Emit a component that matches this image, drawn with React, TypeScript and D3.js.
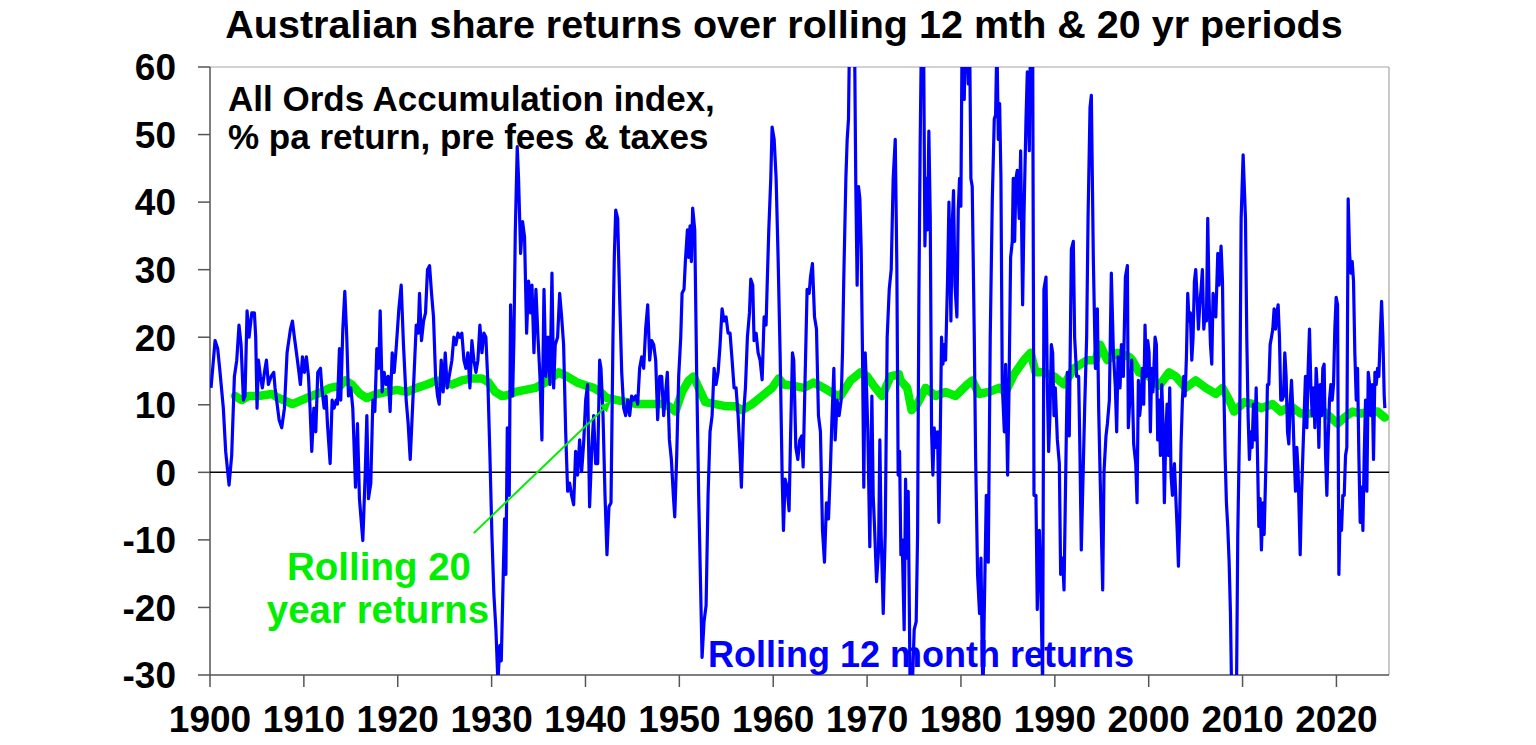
import React from "react";
import * as d3 from "d3";

const titleText = "Australian share returns over rolling 12 mth & 20 yr periods";
const noteLines = ["All Ords Accumulation index,", "% pa return, pre fees & taxes"];
const label20y = ["Rolling 20", "year returns"];
const label12m = "Rolling 12 month returns";

const yTicks = [60, 50, 40, 30, 20, 10, 0, -10, -20, -30];
const xTicks = [1900, 1910, 1920, 1930, 1940, 1950, 1960, 1970, 1980, 1990, 2000, 2010, 2020];

// Rolling 12 month returns, % [decimal year, value]
const rolling12m: [number, number][] = [
  [1900.11, 12.5], [1900.54, 19.5], [1900.82, 18.3], [1901.07, 14.8], [1901.42, 9.5], [1901.67, 3.1],
  [1902.03, -1.9], [1902.31, 2.5], [1902.6, 14.2], [1902.85, 16.6], [1903.09, 21.8], [1903.31, 18.9],
  [1903.56, 10.7], [1903.73, 11.3], [1903.95, 23.9], [1904.16, 20], [1904.45, 23.6], [1904.73, 23.6],
  [1904.87, 20], [1905.01, 9.5], [1905.16, 16.6], [1905.37, 14.2], [1905.58, 12.5], [1905.8, 14.8],
  [1906.01, 16.6], [1906.22, 13], [1906.51, 14.2], [1906.79, 14.8], [1906.93, 12.5], [1907.15, 10.1],
  [1907.36, 7.8], [1907.64, 6.6], [1907.93, 9.5], [1908.21, 17.7], [1908.57, 21.2], [1908.78, 22.4],
  [1908.99, 20], [1909.21, 17.7], [1909.42, 15.4], [1909.63, 13], [1909.85, 17.1], [1910.06, 14.8],
  [1910.27, 17.1], [1910.49, 14.2], [1910.66, 9.5], [1910.84, 3.1], [1911.06, 9.5], [1911.27, 6],
  [1911.48, 14.8], [1911.77, 15.4],
  [1911.91, 12.5], [1912.16, 9.5], [1912.37, 11.3], [1912.51, 7.2], [1912.8, 1.3], [1913.01, 10.7],
  [1913.22, 9.5], [1913.44, 10.7], [1913.58, 10.1], [1913.79, 18.3], [1913.93, 10.7], [1914.15, 21.2],
  [1914.36, 26.8], [1914.57, 20], [1914.75, 11.3], [1915.0, 12.5], [1915.21, 9.5], [1915.5, -2.2],
  [1915.71, 7.2], [1915.92, -3.9], [1916.28, -10.1], [1916.53, -0.4], [1916.71, 8.4], [1916.88, -3.9],
  [1917.13, -1.6], [1917.35, 10.7], [1917.56, 9], [1917.77, 18.3], [1917.98, 15.4], [1918.13, 23.9],
  [1918.34, 11.9], [1918.55, 14.8], [1918.77, 13], [1918.98, 14.2], [1919.19, 9], [1919.41, 17.7],
  [1919.62, 14.8], [1919.83, 18.3], [1920.12, 24.2], [1920.37, 27.7], [1920.61, 18.9], [1920.9, 10.7],
  [1921.11, 7.2], [1921.33, 1.9], [1921.54, 8.4], [1921.75, 14.8], [1921.97, 21.8], [1922.18, 20.6],
  [1922.32, 26.5], [1922.53, 19.5], [1922.75, 22.4], [1922.96, 23.6], [1923.17, 30], [1923.39, 30.6],
  [1923.6, 26.5], [1923.81, 23], [1924.03, 14.2], [1924.24, 11.3],
  [1924.42, 10.1], [1924.63, 16.6], [1924.84, 11.9], [1925.06, 17.7], [1925.27, 12.5], [1925.48, 14.2],
  [1925.77, 16.6], [1925.98, 20], [1926.19, 18.9], [1926.41, 20.6], [1926.62, 20], [1926.83, 20.6],
  [1927.05, 16.6], [1927.26, 15.4], [1927.47, 17.7], [1927.69, 12.5], [1927.9, 19.5], [1928.11, 16.6],
  [1928.33, 14.8], [1928.54, 16.6], [1928.75, 21.8], [1928.97, 17.7], [1929.18, 20.6], [1929.39, 20],
  [1929.61, 13], [1929.82, 2.5], [1930.03, -9.2], [1930.24, -18], [1930.46, -23.3], [1930.67, -31],
  [1930.88, -25.6], [1931.03, -27.9], [1931.24, -15.1], [1931.38, -6.9], [1931.52, -15.1], [1931.67, 6.6],
  [1931.88, -3.4], [1932.02, 24.8], [1932.24, 11.3], [1932.38, 20], [1932.52, 35.4], [1932.73, 48.2],
  [1932.87, 43.5], [1933.09, 32.4], [1933.3, 37.1], [1933.51, 34.8], [1933.73, 20.6], [1933.94, 28.3],
  [1934.15, 23.6], [1934.3, 27.7], [1934.51, 17.7], [1934.72, 27.1], [1934.94, 20], [1935.15, 14.2],
  [1935.36, 4.8], [1935.58, 27.1], [1935.79, 14.2], [1936.0, 20], [1936.22, 13], [1936.43, 29.5],
  [1936.61, 12.5], [1936.78, 18.9], [1937.03, 20], [1937.25, 26.5], [1937.46, 23], [1937.67, 18.9],
  [1937.89, 6], [1938.1, -2.8], [1938.31, -1.6], [1938.52, -3.4], [1938.74, -4.8], [1938.95, 3.1],
  [1939.16, -0.4], [1939.38, 4.8], [1939.59, 0.1], [1939.8, 4.2], [1940.02, 10.7], [1940.23, 13],
  [1940.44, -5.1], [1940.66, 3.1], [1940.87, 8.4], [1941.08, 1.3], [1941.3, 1.3], [1941.51, 16.6],
  [1941.65, 15.4], [1941.87, 8.4], [1942.08, -3.4], [1942.29, -12.2], [1942.5, -5.1], [1942.72, -4.5],
  [1942.93, 20], [1943.07, 31.8], [1943.22, 38.8], [1943.43, 37.6], [1943.64, 25.9], [1943.86, 14.8],
  [1944.07, 9.5], [1944.28, 8.4], [1944.5, 10.7], [1944.71, 8.4], [1944.92, 11.3], [1945.13, 10.7],
  [1945.35, 11.3], [1945.56, 10.1], [1945.77, 15.4], [1945.99, 17.1], [1946.2, 15.4], [1946.41, 21.2],
  [1946.63, 24.8], [1946.84, 16.6], [1947.05, 19.5], [1947.27, 18.9], [1947.48, 16.6], [1947.69, 7.8],
  [1947.91, 14.2], [1948.12, 14.2], [1948.33, 8.4],
  [1948.72, 14.8], [1948.94, 4.8], [1949.15, 1.9], [1949.36, -3.4], [1949.51, -6.6], [1949.72, 2.5],
  [1949.93, 14.2], [1950.15, 20], [1950.29, 26.5], [1950.5, 27.1], [1950.64, 31.2], [1950.86, 35.9],
  [1951.0, 31.8], [1951.14, 36.5], [1951.28, 31.2], [1951.42, 39.1], [1951.64, 35.9], [1951.85, 14.2],
  [1952.06, -3.4], [1952.28, -18], [1952.42, -27.4], [1952.63, -22.1], [1952.85, -19.7], [1953.06, -3.4],
  [1953.27, 6], [1953.49, 8.4], [1953.7, 15.4], [1953.91, 13], [1954.13, 14.8], [1954.34, 18.9],
  [1954.55, 24.2], [1954.76, 22.4], [1954.98, 23], [1955.19, 20.6], [1955.4, 20.6], [1955.62, 16.6],
  [1955.83, 12.5], [1956.04, 12.5], [1956.26, 8.4], [1956.47, 2.5], [1956.61, -2.2], [1956.83, 8.4],
  [1957.04, 12.5], [1957.25, 20], [1957.47, 23.6], [1957.61, 28.6], [1957.82, 27.7], [1957.96, 19.5],
  [1958.18, 20.6], [1958.39, 17.7], [1958.6, 16.6], [1958.82, 13.7], [1959.03, 23], [1959.24, 21.8],
  [1959.38, 28.9], [1959.53, 35.9], [1959.74, 43.5], [1959.88, 51.1], [1960.1, 49.3], [1960.31, 43.5],
  [1960.52, 31.8], [1960.74, 17.1], [1960.95, -0.4], [1961.09, -8.6],
  [1961.27, -1], [1961.48, -2.2], [1961.69, -5.7], [1961.84, 4.8], [1962.05, 17.7], [1962.19, 16.6],
  [1962.41, 3.7], [1962.62, 1.9], [1962.83, 4.8], [1963.04, 5.4], [1963.19, 0.8], [1963.4, 14.2],
  [1963.61, 27.1], [1963.83, 26.5], [1963.97, 28.9], [1964.18, 30.9], [1964.4, 23], [1964.61, 21.2],
  [1964.82, 8.4], [1965.03, 6], [1965.25, -8.6], [1965.46, -13.3], [1965.67, -4.5], [1965.89, -6.9],
  [1966.1, 0.8], [1966.24, 7.2], [1966.46, 15.4], [1966.6, 4.8], [1966.81, 10.7], [1967.02, 8.4],
  [1967.24, 10.7], [1967.38, 17.7], [1967.52, 28.9], [1967.74, 43.5], [1967.88, 49.3], [1968.02, 52.3],
  [1968.16, 68], [1968.38, 78], [1968.66, 65], [1968.8, 42.3], [1968.94, 27.7], [1969.09, 42.3],
  [1969.23, 40.5], [1969.37, 33], [1969.51, 17.7], [1969.65, -2.2], [1969.8, 17.7], [1969.94, 12.5],
  [1970.08, 6], [1970.29, -11], [1970.51, 11.3], [1970.65, -3.4], [1970.79, -8], [1971.01, -16.2],
  [1971.22, -11.5], [1971.36, 4.8], [1971.5, -9.2], [1971.72, -20.9], [1971.93, -9.2], [1972.14, 20],
  [1972.36, 27.1], [1972.57, 30], [1972.78, 43.5], [1973.0, 49.3],
  [1973.17, 30.6], [1973.31, -0.4], [1973.46, 3.1], [1973.6, -12.2], [1973.74, -10], [1973.95, -23.3],
  [1974.1, -1], [1974.24, -12.7], [1974.38, -2.8], [1974.59, -33], [1974.81, -32], [1975.02, -23.3],
  [1975.23, -22.1], [1975.38, -9.2], [1975.52, 25.9], [1975.66, 49.3], [1975.8, 66], [1976.02, 64],
  [1976.16, 33.5], [1976.3, 43.5], [1976.44, 35.9], [1976.58, 50.5], [1976.73, 37.6], [1976.87, 6],
  [1977.01, -0.4], [1977.15, 6.6], [1977.29, 3.7], [1977.51, 6], [1977.65, -7.4], [1977.79, 4.8],
  [1977.93, 20], [1978.08, 16], [1978.22, 18.9], [1978.36, 16.6], [1978.57, 28.3], [1978.72, 40],
  [1978.93, 22.4], [1979.07, 36.5], [1979.21, 41.7], [1979.36, 27.7], [1979.57, 23], [1979.71, 38.8],
  [1979.85, 43.5], [1979.99, 39.4], [1980.14, 68], [1980.35, 55.2], [1980.56, 70], [1980.78, 57.5],
  [1980.92, 65], [1981.06, 43.5], [1981.2, 42.3], [1981.42, 20], [1981.56, 2.5], [1981.77, -15.1],
  [1981.98, -20.9], [1982.13, -12.7], [1982.34, -34], [1982.48, -20.9], [1982.7, -3.4], [1982.91, -13.3],
  [1983.12, 20], [1983.34, 40.5], [1983.55, 52.3], [1983.69, 52.9], [1983.83, 64], [1983.98, 49.3],
  [1984.12, 54.6], [1984.26, 43.5], [1984.4, 13], [1984.62, 6], [1984.76, 16], [1984.97, -0.4],
  [1985.11, 11.3],
  [1985.29, 31.8], [1985.47, 34.2], [1985.57, 43.5], [1985.72, 34.2], [1985.86, 43.5], [1986.0, 44.7],
  [1986.21, 37.6], [1986.36, 47.6], [1986.57, 24.8], [1986.71, 37.6], [1986.93, 52.3], [1987.07, 59.3],
  [1987.28, 47.6], [1987.42, 66], [1987.64, 64], [1987.78, -3.4], [1987.99, -3.4], [1988.13, -20.3],
  [1988.35, -8.6], [1988.49, -15.1], [1988.7, -32], [1988.84, 27.1], [1989.06, 28.9], [1989.2, 13],
  [1989.34, 3.1], [1989.48, 8.4], [1989.63, 18.9], [1989.77, 17.7], [1989.91, 8.4], [1990.05, 12.5],
  [1990.27, 4.8], [1990.48, 1.3], [1990.62, -15.1], [1990.83, -12.7], [1990.98, -17.4], [1991.19, 2.5],
  [1991.33, 14.8], [1991.54, 5.4], [1991.76, 33], [1991.97, 34.2], [1992.11, 20], [1992.33, 14.2],
  [1992.54, 14.2], [1992.68, 2.5], [1992.82, -11.5], [1993.04, 1.3], [1993.18, 9.5], [1993.39, 20],
  [1993.54, 37.6], [1993.75, 54], [1993.89, 55.8], [1994.1, 31.8], [1994.32, 15.4], [1994.53, 24.2],
  [1994.67, 9.5], [1994.89, -4.5], [1995.1, -17.4], [1995.24, 0.1], [1995.45, 5.4], [1995.6, 7.2],
  [1995.81, 10.7], [1996.02, 29.5], [1996.24, 17.7], [1996.45, 12.5], [1996.59, 6], [1996.73, 17.1],
  [1996.95, 12.5], [1997.09, 18.9], [1997.3, 14.2], [1997.52, 28.9], [1997.73, 30.6],
  [1997.83, 6.6], [1998.05, 12.5], [1998.19, 16.6], [1998.4, 4.2], [1998.62, 1.3], [1998.76, -4.5],
  [1998.9, 13.6], [1999.04, 8.4], [1999.19, 10.7], [1999.33, 15.4], [1999.47, 10.1], [1999.61, 21.8],
  [1999.75, 14.2], [1999.9, 19.5], [2000.04, 17.7], [2000.18, 6], [2000.32, 15.4], [2000.46, 11.9],
  [2000.68, 20], [2000.82, 18.9], [2000.96, 4.8], [2001.1, 10.7], [2001.25, 2.5], [2001.39, 13],
  [2001.53, 7.2], [2001.67, -4.5], [2001.81, 4.8], [2001.96, 10.1], [2002.1, 2.5], [2002.24, 12.5],
  [2002.38, -0.4], [2002.53, -3.4], [2002.74, 1.3], [2002.88, -3.4], [2003.02, -8], [2003.17, -13.9],
  [2003.31, -6.3], [2003.45, 4.2], [2003.59, 10.7], [2003.73, 14.2], [2003.88, 11.3], [2004.02, 17.1],
  [2004.16, 26.5], [2004.3, 22.4], [2004.44, 23.6], [2004.59, 16.6], [2004.73, 20], [2004.87, 28.3],
  [2005.01, 30], [2005.16, 25.9], [2005.3, 21.2], [2005.44, 24.8], [2005.58, 27.1], [2005.72, 30],
  [2005.87, 21.2], [2006.01, 23.6], [2006.15, 22.4], [2006.29, 37.6], [2006.43, 25.9], [2006.58, 18.9],
  [2006.72, 16], [2006.86, 26.5], [2007.0, 24.2], [2007.15, 23], [2007.36, 32.4], [2007.5, 27.7],
  [2007.71, 33.5], [2007.86, 28.3], [2008.0, 13], [2008.14, 2.5], [2008.28, -4.5], [2008.42, -8],
  [2008.57, -13.3], [2008.71, -20.9], [2008.85, -34], [2009.14, -38], [2009.35, -33], [2009.49, -9.2],
  [2009.7, 8.4], [2009.85, 37.6], [2010.06, 47],
  [2010.31, 37.6], [2010.45, 20], [2010.59, 8.4], [2010.73, 1.9], [2010.88, 6], [2011.02, 3.7],
  [2011.16, 10.1], [2011.3, 4.8], [2011.45, 12.5], [2011.59, 2.5], [2011.73, -8], [2011.87, -3.9],
  [2012.01, -11.5], [2012.16, -4.5], [2012.3, -9.2], [2012.51, 2.5], [2012.65, 13], [2012.8, 13],
  [2012.94, 18.9], [2013.08, 20], [2013.22, 21.2], [2013.36, 24.2], [2013.51, 21.2], [2013.65, 23.6],
  [2013.79, 24.8], [2013.93, 20], [2014.07, 10.7], [2014.22, 10.7], [2014.36, 11.3], [2014.5, 17.7],
  [2014.64, 14.2], [2014.79, 6], [2014.93, 4.2], [2015.07, 10.1], [2015.21, 13.6], [2015.35, 9.5],
  [2015.5, 2.5], [2015.64, -2.8], [2015.78, 3.7], [2015.92, 0.1], [2016.14, -12.2], [2016.28, -3.4],
  [2016.42, 2.5], [2016.56, 8.4], [2016.7, 14.2], [2016.85, 6.6], [2016.99, 15.4], [2017.13, 21.2],
  [2017.27, 13], [2017.42, 8.4], [2017.56, 12.5], [2017.7, 6.6], [2017.84, 15.4], [2017.98, 11.9],
  [2018.13, 3.7], [2018.27, 13], [2018.41, 8.4], [2018.55, 15.4], [2018.69, 16], [2018.84, 2.5],
  [2018.98, -3.4], [2019.12, 4.8], [2019.26, 10.7], [2019.41, 13], [2019.55, 10.7], [2019.69, 13],
  [2019.83, 21.2], [2019.97, 25.9], [2020.12, 24.8], [2020.26, -15.1], [2020.4, -5.7], [2020.54, -8.6],
  [2020.68, -3.4], [2020.83, -3.4], [2020.97, 2.5], [2021.11, 3.7], [2021.25, 40.5], [2021.4, 32.4],
  [2021.54, 29.5], [2021.68, 31.2], [2021.82, 28.3], [2021.96, 17.7], [2022.11, 10.7], [2022.25, 15.4],
  [2022.39, 2.5], [2022.53, -7.4], [2022.67, -2.2], [2022.82, -8.6], [2022.96, 2.5], [2023.1, 10.7],
  [2023.24, -2.8], [2023.39, 14.8], [2023.53, 13], [2023.67, 8.4], [2023.81, 13], [2023.95, 1.9],
  [2024.1, 14.8], [2024.24, 13], [2024.38, 15.4], [2024.52, 14.2], [2024.66, 20], [2024.81, 25.3],
  [2024.95, 20], [2025.09, 11.3], [2025.16, 9.5],
];

// Rolling 20 year returns, % pa [decimal year, value]
const rolling20y: [number, number][] = [
  [1902.67, 11.3], [1903.38, 10.7], [1904.09, 11.3], [1905.16, 11.3], [1906.58, 11.6], [1907.29, 11],
  [1907.82, 10.7], [1908.78, 10.1], [1909.78, 10.7], [1910.84, 11.3], [1911.91, 11.9], [1912.8, 12.5],
  [1913.86, 12.8], [1914.4, 13.6], [1915.11, 13], [1916.0, 11.6], [1916.71, 11], [1917.77, 11.6],
  [1918.84, 11.9], [1919.9, 12.2], [1920.97, 11.9], [1922.04, 12.5], [1923.1, 13], [1924.17, 13.6],
  [1925.77, 13], [1926.83, 13.6], [1927.9, 13.9], [1928.97, 13.9], [1929.68, 13.3], [1930.39, 11.9],
  [1931.1, 11.3], [1931.63, 11.4], [1932.52, 11.9], [1933.59, 12.2], [1934.65, 12.5], [1935.72, 13.3],
  [1936.61, 14.2], [1937.14, 14.8], [1938.03, 14.2], [1939.09, 13.3], [1940.16, 12.8], [1940.87, 12.5],
  [1941.58, 11.9], [1942.29, 11], [1943.36, 10.7], [1944.42, 10.4], [1945.49, 10.1], [1946.91, 10.1],
  [1948.33, 10.1], [1948.87, 9.8], [1949.58, 9], [1950.29, 11.9], [1951.0, 13.6], [1951.53, 14.2],
  [1952.06, 12.5], [1952.77, 10.4], [1953.84, 10.1], [1954.91, 9.8], [1955.97, 9.8], [1956.68, 9.2],
  [1957.75, 10.1], [1958.82, 11.3], [1959.88, 12.5], [1960.59, 13.9], [1961.13, 13], [1962.19, 12.8],
  [1963.26, 12.5], [1964.32, 13.3], [1965.39, 12.5], [1966.46, 11.6], [1967.17, 11.3], [1968.23, 13.6],
  [1969.3, 14.8], [1970.01, 14.2], [1970.72, 12.8], [1971.61, 11.3], [1972.5, 14.2], [1973.39, 14.5],
  [1973.56, 13.6], [1974.27, 12.5], [1974.74, 9.2], [1975.34, 10.1], [1976.23, 12.5], [1977.29, 11.3],
  [1978.36, 11.9], [1979.43, 11.3], [1980.67, 13], [1981.2, 13.6], [1981.91, 11.6], [1982.98, 11.9],
  [1984.05, 12.5], [1984.76, 11.9], [1985.65, 14.5], [1986.71, 16.6], [1987.42, 17.7], [1987.96, 14.8],
  [1988.84, 14.8], [1989.91, 14.2], [1990.98, 13], [1992.04, 15.4], [1993.46, 16.6], [1994.35, 16.6],
  [1994.81, 18.9], [1995.6, 16.6], [1996.66, 17.7], [1997.91, 17.1], [1998.26, 16.6], [1998.97, 14.8],
  [2000.04, 14.2], [2001.1, 12.8], [2002.17, 14.8], [2002.88, 14.2], [2003.95, 12.5], [2005.01, 13.6],
  [2006.08, 12.5], [2007.15, 11.6], [2007.86, 12.5], [2008.57, 10.7], [2009.1, 9], [2010.17, 10.4],
  [2011.23, 10.1], [2011.94, 9.5], [2013.19, 10.1], [2014.07, 9], [2015.14, 9.8], [2016.21, 8.7],
  [2017.27, 8.7], [2018.69, 9], [2020.12, 7.2], [2020.83, 8.1], [2021.72, 9], [2022.6, 8.7],
  [2023.49, 9], [2024.38, 9], [2025.16, 8.1],
];

// annotation arrow in data units: [year, value]
const arrowFrom: [number, number] = [1928.1, -9.0];
const arrowTo: [number, number] = [1942.6, 10.3];

const FONT = "'Liberation Sans', Arial, Helvetica, sans-serif";
const BLUE = "#0000FF";
const GREEN = "#00EE00";

export default function App() {
  const W = 1536;
  const H = 745;
  const left = 210, right = 1389, top = 67, bottom = 675;

  const x = d3.scaleLinear().domain([1900, 2025.6]).range([left, right]);
  const y = d3.scaleLinear().domain([-30, 60]).range([bottom, top]);
  const line = d3
    .line<[number, number]>()
    .x((d) => x(d[0]))
    .y((d) => y(d[1]));

  return (
    <svg
      width={W}
      height={H}
      viewBox={`0 0 ${W} ${H}`}
      style={{ position: "absolute", left: 0, top: 0, display: "block", background: "#fff" }}
      fontFamily={FONT}
    >
      <defs>
        <clipPath id="plotClip">
          <rect x={left} y={top} width={right - left} height={bottom - top} />
        </clipPath>
        <marker id="arrowHead" viewBox="0 0 10 10" refX="9" refY="5" markerWidth="5" markerHeight="5" orient="auto">
          <path d="M0,0 L10,5 L0,10 z" fill={GREEN} />
        </marker>
      </defs>

      <rect x={0} y={0} width={W} height={H} fill="#fff" />

      {/* plot frame */}
      <line x1={left} x2={right} y1={top} y2={top} stroke="#a6a6a6" strokeWidth={1.2} />
      <line x1={right} x2={right} y1={top} y2={bottom} stroke="#a6a6a6" strokeWidth={1.2} />

      {/* title */}
      <text x={784} y={38} textAnchor="middle" fontSize={39.5} fontWeight="bold" fill="#000">
        {titleText}
      </text>

      {/* y axis */}
      <line x1={left} x2={left} y1={top} y2={bottom} stroke="#555" strokeWidth={1.5} />
      {yTicks.map((t) => (
        <g key={`y${t}`}>
          <line x1={left - 12} x2={left} y1={y(t)} y2={y(t)} stroke="#555" strokeWidth={1.5} />
          <text x={176} y={y(t)} dy="0.36em" textAnchor="end" fontSize={37} fontWeight="bold" fill="#000">
            {t}
          </text>
        </g>
      ))}

      {/* x axis */}
      <line x1={left} x2={right} y1={bottom} y2={bottom} stroke="#555" strokeWidth={1.5} />
      {xTicks.map((t) => (
        <g key={`x${t}`}>
          <line x1={x(t)} x2={x(t)} y1={bottom} y2={bottom + 12} stroke="#555" strokeWidth={1.5} />
          <text x={x(t)} y={732} textAnchor="middle" fontSize={37} fontWeight="bold" fill="#000">
            {t}
          </text>
        </g>
      ))}

      {/* zero line */}
      <line x1={left} x2={right} y1={y(0)} y2={y(0)} stroke="#000" strokeWidth={1.5} />

      {/* series */}
      <g clipPath="url(#plotClip)">
        <path d={line(rolling20y) || ""} fill="none" stroke={GREEN} strokeWidth={8.5} strokeLinejoin="round" strokeLinecap="round" />
        <path d={line(rolling12m) || ""} fill="none" stroke={BLUE} strokeWidth={3.2} strokeLinejoin="round" />
      </g>

      {/* annotations */}
      <text x={228} y={111} fontSize={35} fontWeight="bold" fill="#000">
        {noteLines[0]}
      </text>
      <text x={228} y={149} fontSize={35} fontWeight="bold" fill="#000">
        {noteLines[1]}
      </text>

      <line
        x1={x(arrowFrom[0])}
        y1={y(arrowFrom[1])}
        x2={x(arrowTo[0])}
        y2={y(arrowTo[1])}
        stroke={GREEN}
        strokeWidth={2}
        markerEnd="url(#arrowHead)"
      />
      <text x={379} y={580} textAnchor="middle" fontSize={38.5} fontWeight="bold" fill={GREEN}>
        {label20y[0]}
      </text>
      <text x={378} y={623} textAnchor="middle" fontSize={38.5} fontWeight="bold" fill={GREEN}>
        {label20y[1]}
      </text>

      <text x={708} y={667} fontSize={36} fontWeight="bold" fill={BLUE}>
        {label12m}
      </text>
    </svg>
  );
}
